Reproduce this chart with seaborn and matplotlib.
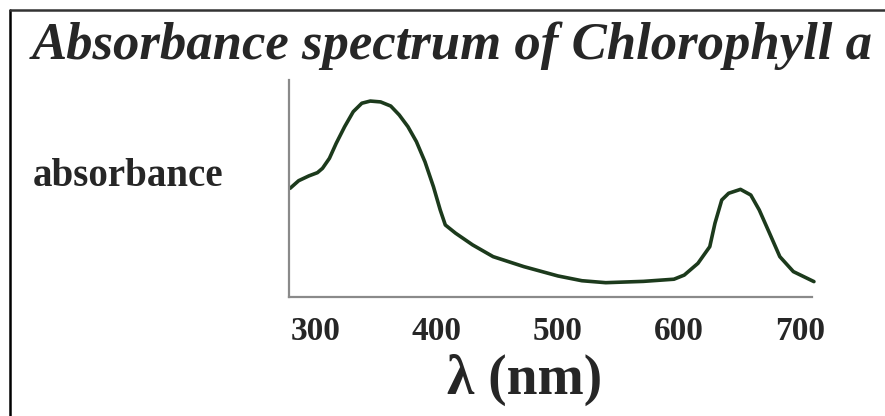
import numpy as np
import pandas as pd
import matplotlib.pyplot as plt
import seaborn as sns
from matplotlib.lines import Line2D

# Absorbance spectrum (arbitrary units)
wavelength = [278.6, 285.7, 294.1, 301.2, 305.4, 311.1, 316.7, 323.7, 330.8,
              337.9, 344.9, 353.4, 361.8, 368.8, 376.0, 383.0, 390.1, 397.1,
              402.7, 406.9, 415.4, 429.5, 446.4, 471.8, 500.0, 519.8, 539.5,
              570.6, 595.9, 604.4, 615.7, 625.5, 629.8, 635.4, 641.1, 650.9,
              659.4, 666.4, 674.9, 683.4, 694.6, 711.6]
absorbance = [0.501, 0.536, 0.558, 0.573, 0.593, 0.639, 0.708, 0.785, 0.854,
              0.893, 0.903, 0.899, 0.880, 0.839, 0.785, 0.716, 0.623, 0.508,
              0.401, 0.332, 0.294, 0.240, 0.186, 0.140, 0.097, 0.075, 0.066,
              0.072, 0.082, 0.101, 0.155, 0.232, 0.340, 0.447, 0.478, 0.496,
              0.470, 0.401, 0.294, 0.186, 0.117, 0.071]
tick_values = [300, 400, 500, 600, 700]

df = pd.DataFrame({'wavelength': wavelength, 'absorbance': absorbance})

sns.set_theme(style='white')
plt.rcParams['font.family'] = ['Liberation Serif', 'DejaVu Serif']

fig = plt.figure(figsize=(8.85, 4.16), dpi=100)
ax = fig.add_axes([289 / 885, 119 / 416, 523 / 885, 217 / 416])

sns.lineplot(data=df, x='wavelength', y='absorbance', ax=ax,
             color='#1c3a1c', linewidth=2.6)
for line in ax.get_lines():
    line.set_solid_joinstyle('round')
    line.set_solid_capstyle('round')
    line.set_clip_on(False)

ax.set_xlim(277.7, 710)
ax.set_ylim(0, 1)
ax.set_xticks(tick_values)
ax.set_xticklabels([str(t) for t in tick_values], fontsize=24, fontweight='bold')
ax.set_yticks([])
ax.tick_params(axis='x', length=0, pad=14)
for side in ['top', 'right']:
    ax.spines[side].set_visible(False)
for side in ['left', 'bottom']:
    ax.spines[side].set_color('#8a8a8a')
    ax.spines[side].set_linewidth(1.6)

ax.set_xlabel('λ (nm)', fontsize=40, fontweight='bold')
ax.xaxis.set_label_coords((525 - 289) / 523, -0.262)
ax.set_ylabel('')

fig.text(33 / 885, 1 - 176 / 416, 'absorbance', fontsize=28, fontweight='bold',
         ha='left', va='center')

fig.text(452 / 885, 1 - 46 / 416, 'Absorbance spectrum of Chlorophyll a',
         fontsize=38, fontweight='bold', fontstyle='italic',
         ha='center', va='center')

# frame lines on the left and top
fig.add_artist(Line2D([9.5 / 885, 9.5 / 885], [0, 1 - 10 / 416],
                      transform=fig.transFigure, color='black', linewidth=1.8))
fig.add_artist(Line2D([9.5 / 885, 1], [1 - 10 / 416, 1 - 10 / 416],
                      transform=fig.transFigure, color='#333333', linewidth=1.8))

fig.savefig('out.png', dpi=100)
